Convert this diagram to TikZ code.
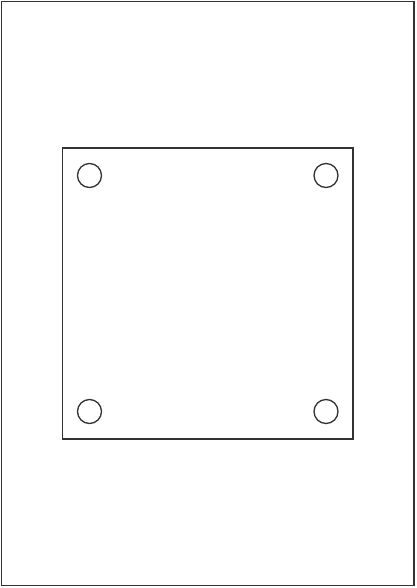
\documentclass[tikz,border=0pt]{standalone}
\begin{document}
\begin{tikzpicture}[x=1pt,y=-1pt,
  edge/.style={draw=black!80,line width=1.3pt},
  hole/.style={circle,draw=black!80,line width=1.3pt,minimum size=24pt,inner sep=0pt}]
\useasboundingbox (0,0) rectangle (416,588);
\draw[edge] (1.5,1.5) rectangle (414,585.5);
\draw[edge] (62.5,148) rectangle (353,439);
\node[hole] (h1) at (89.5,175.5) {};
\node[hole] (h2) at (326,175.5) {};
\node[hole] (h3) at (89.5,411.5) {};
\node[hole] (h4) at (326,411.5) {};
\end{tikzpicture}
\end{document}
